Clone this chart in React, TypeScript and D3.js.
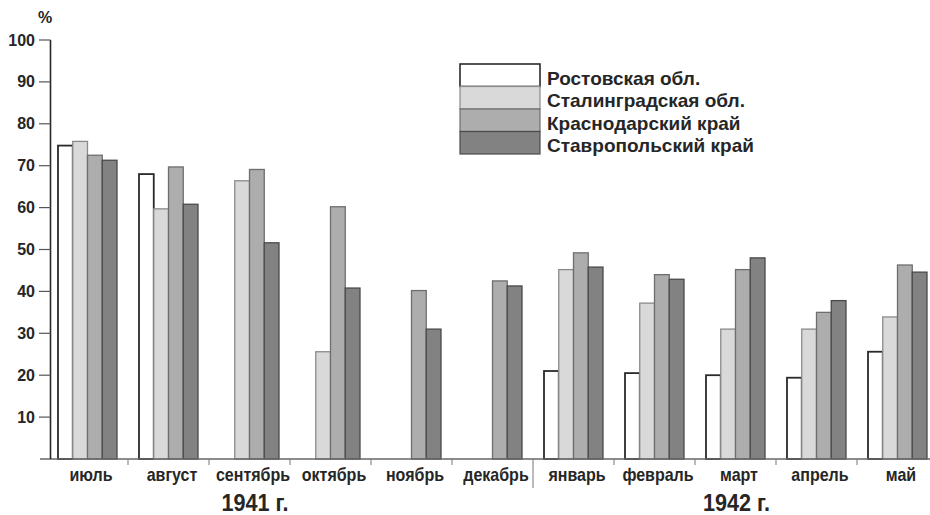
import React from 'react';
import * as d3 from 'd3';

const months = ['июль', 'август', 'сентябрь', 'октябрь', 'ноябрь', 'декабрь', 'январь', 'февраль', 'март', 'апрель', 'май'];
const seriesNames = ['Ростовская обл.', 'Сталинградская обл.', 'Краснодарский край', 'Ставропольский край'];
const rostov: (number | null)[] = [74.8, 68, null, null, null, null, 21, 20.5, 20, 19.4, 25.6];
const stalingrad: (number | null)[] = [75.8, 59.7, 66.4, 25.6, null, null, 45.2, 37.2, 31, 31, 33.9];
const krasnodar: (number | null)[] = [72.5, 69.7, 69.1, 60.2, 40.2, 42.5, 49.2, 44, 45.2, 35, 46.3];
const stavropol: (number | null)[] = [71.3, 60.8, 51.6, 40.8, 31, 41.3, 45.8, 42.9, 48, 37.8, 44.6];
const yTicks = [10, 20, 30, 40, 50, 60, 70, 80, 90, 100];
const years = ['1941 г.', '1942 г.'];

const fills = ['#ffffff', '#d9d9d9', '#adadad', '#828282'];
const strokes = ['#2a2a2a', '#8a8a8a', '#6e6e6e', '#4a4a4a'];

const FONT = '"Liberation Sans", Arial, sans-serif';
const TEXT = '#262626';

export default function App() {
  const W = 930, H = 515;
  const axisX = 50.5;
  const baseY = 459;
  const y = d3.scaleLinear().domain([0, 100]).range([baseY, 40]);
  const x0 = d3.scaleBand<string>().domain(months).range([47, 938]);
  const x1 = d3.scaleBand<string>().domain(seriesNames).range([11, 70]);
  const allSeries = [rostov, stalingrad, krasnodar, stavropol];

  const legendX = 460, legendY = 64, legendW = 80, legendH = 22.5;

  return (
    <svg width={W} height={H} style={{ position: 'absolute', left: 0, top: 0, background: '#fff' }}>
      <rect x={0} y={0} width={W} height={H} fill="#fff" />
      {/* bars */}
      {months.map((m, i) => (
        <g key={m} transform={`translate(${x0(m)},0)`}>
          {allSeries.map((s, j) => {
            const v = s[i];
            if (v == null) return null;
            return (
              <rect
                key={j}
                x={(x1(seriesNames[j]) as number)}
                y={y(v)}
                width={x1.bandwidth()}
                height={baseY - y(v)}
                fill={fills[j]}
                stroke={strokes[j]}
                strokeWidth={j === 0 ? 1.8 : 1.3}
              />
            );
          })}
        </g>
      ))}
      {/* x axis */}
      <line x1={40} x2={W} y1={baseY} y2={baseY} stroke="#666" strokeWidth={1.5} />
      {months.map((m, i) => {
        const xr = (x0(m) as number) + x0.bandwidth();
        const isDivider = i === 5;
        return (
          <line key={'t' + m} x1={xr} x2={xr} y1={baseY} y2={isDivider ? 488 : 465} stroke="#777" strokeWidth={1} />
        );
      })}
      {months.map((m) => {
        const cx = (x0(m) as number) + x0.bandwidth() / 2 + 3.5;
        return (
          <text
            key={'l' + m}
            x={cx}
            y={481}
            textAnchor="middle"
            fontFamily={FONT}
            fontWeight="bold"
            fontSize={18}
            fill={TEXT}
            transform={`translate(${cx},0) scale(0.89,1) translate(${-cx},0)`}
          >
            {m}
          </text>
        );
      })}
      {/* years */}
      {years.map((t, i) => {
        const cx = (x0(months[i === 0 ? 2 : 8]) as number) + x0.bandwidth() / 2 + (i === 0 ? 5.5 : 1);
        return (
          <text
            key={t}
            x={cx}
            y={511}
            textAnchor="middle"
            fontFamily={FONT}
            fontWeight="bold"
            fontSize={24}
            fill={TEXT}
            transform={`translate(${cx},0) scale(0.9,1) translate(${-cx},0)`}
          >
            {t}
          </text>
        );
      })}
      {/* y axis */}
      <line x1={axisX} x2={axisX} y1={y(100)} y2={baseY} stroke="#262626" strokeWidth={1.6} />
      {yTicks.map((t) => (
        <g key={'y' + t}>
          <line x1={39} x2={axisX} y1={y(t)} y2={y(t)} stroke="#555" strokeWidth={1.2} />
          <text
            x={35}
            y={y(t) + 5.5}
            textAnchor="end"
            fontFamily={FONT}
            fontWeight="bold"
            fontSize={16}
            fill={TEXT}
          >
            {t}
          </text>
        </g>
      ))}
      <text x={45} y={23} textAnchor="middle" fontFamily={FONT} fontWeight="bold" fontSize={16} fill={TEXT}>
        %
      </text>
      {/* legend */}
      {seriesNames.map((s, j) => (
        <g key={'lg' + s}>
          <rect
            x={legendX}
            y={legendY + j * legendH}
            width={legendW}
            height={legendH}
            fill={fills[j]}
            stroke={strokes[j]}
            strokeWidth={j === 0 ? 1.6 : 1.2}
          />
          <text
            x={legendX + legendW + 7}
            y={legendY + j * legendH + 20.5}
            fontFamily={FONT}
            fontWeight="bold"
            fontSize={19}
            fill={TEXT}
          >
            {s}
          </text>
        </g>
      ))}
    </svg>
  );
}
